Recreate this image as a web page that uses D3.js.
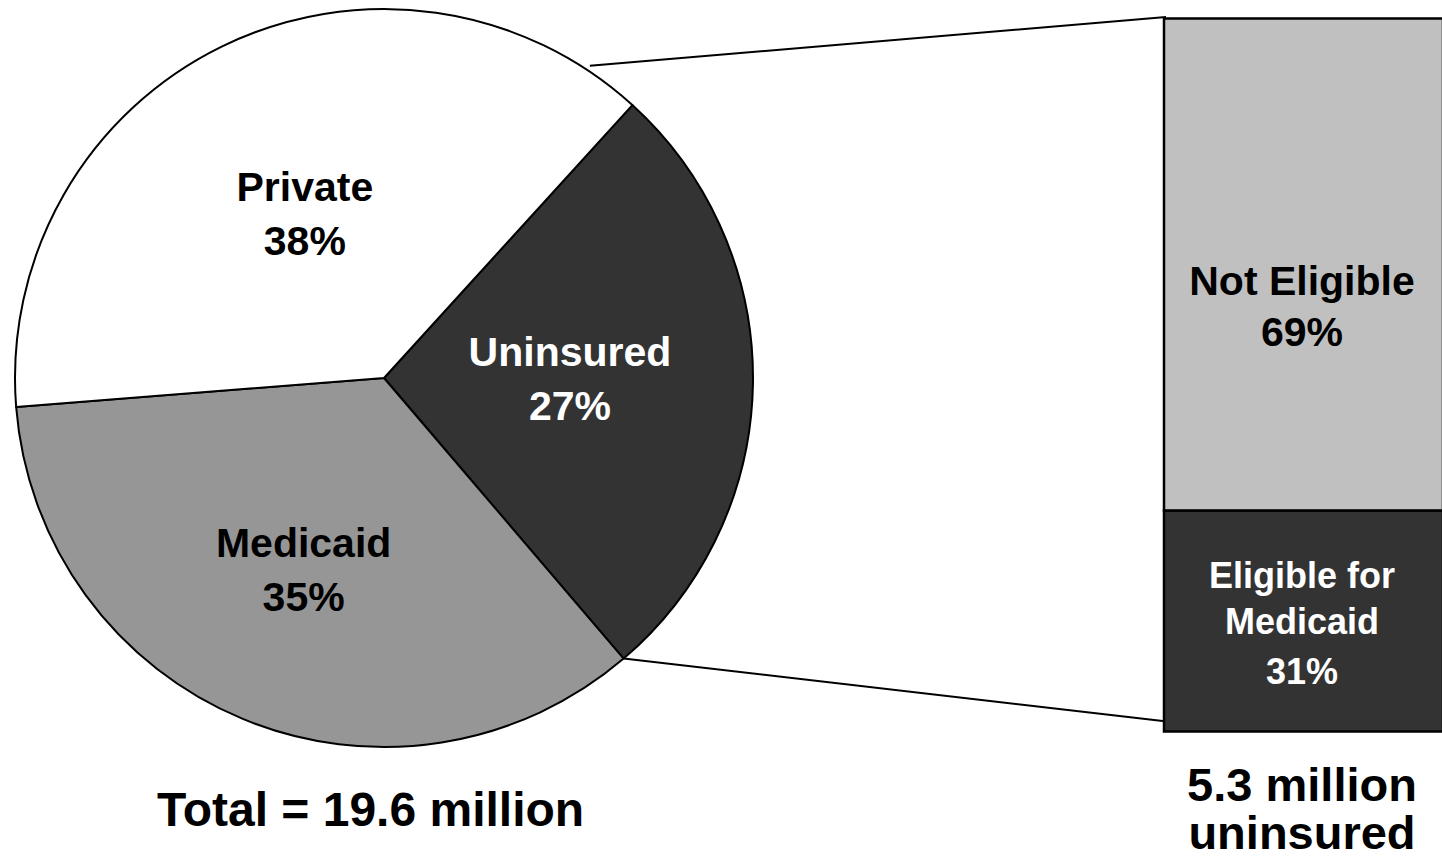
<!DOCTYPE html>
<html>
<head>
<meta charset="utf-8">
<script src="https://cdn.jsdelivr.net/npm/d3@7/dist/d3.min.js"></script>
<style>
  html, body { margin: 0; padding: 0; background: #fff; }
  svg { display: block; }
  text { font-family: "Liberation Sans", Arial, Helvetica, sans-serif; font-weight: bold; }
</style>
</head>
<body>
<svg id="chart" width="1442" height="862"></svg>
<script>
// Coverage of all children (pie) and breakdown of the uninsured (stacked bar)
const coverageNames  = ["Uninsured", "Medicaid", "Private"];
const coverageShares = [27, 35, 38];
const coverageColors = ["#333333", "#969696", "#ffffff"];
const coverageLabelColors = ["#ffffff", "#000000", "#000000"];

const uninsuredNames  = [["Eligible for", "Medicaid"], ["Not Eligible"]];
const uninsuredShares = [31, 69];
const uninsuredColors = ["#333333", "#c0c0c0"];
const uninsuredLabelColors = ["#ffffff", "#000000"];

const pieCaption = "Total = 19.6 million";
const barCaption = ["5.3 million", "uninsured"];

const svg = d3.select("#chart");
const cx = 384, cy = 378, R = 369;
const deg = Math.PI / 180;

// ---- pie ----
const pie = d3.pie().sort(null).value(d => d.v)
  .startAngle(42.3 * deg).endAngle(42.3 * deg + 2 * Math.PI);
const pieData = pie(coverageNames.map((n, i) => ({ n, v: coverageShares[i], i })));
const arc = d3.arc().innerRadius(0).outerRadius(R);

const gPie = svg.append("g").attr("transform", `translate(${cx},${cy})`);
gPie.selectAll("path").data(pieData).join("path")
  .attr("d", arc)
  .attr("fill", d => coverageColors[d.data.i])
  .attr("stroke", "#000").attr("stroke-width", 2).attr("stroke-linejoin", "round");

// label placement along each slice's bisector
const labelRadius = { Uninsured: 186, Medicaid: 210, Private: 180 };
pieData.forEach(d => {
  const a = (d.startAngle + d.endAngle) / 2;
  const r = labelRadius[d.data.n];
  const x = r * Math.sin(a), y = -r * Math.cos(a);
  const t = gPie.append("text").attr("text-anchor", "middle")
    .attr("fill", coverageLabelColors[d.data.i]).style("font-size", "41px");
  t.append("tspan").attr("x", x).attr("y", y - 15).text(d.data.n);
  t.append("tspan").attr("x", x).attr("y", y + 39).text(d.data.v + "%");
});

// ---- stacked bar for the uninsured ----
const barX = 1164, barW = 279;
const y = d3.scaleLinear().domain([0, 100]).range([731.5, 18.5]);
const stacked = [];
let acc = 0;
uninsuredShares.forEach((v, i) => { stacked.push({ i, v, y0: acc, y1: acc + v }); acc += v; });

// connectors from the uninsured slice to the bar
const uSlice = pieData[0];
const lowerStart = [cx + R * Math.sin(uSlice.endAngle), cy - R * Math.cos(uSlice.endAngle)];
const upperAngle = uSlice.startAngle - 8.9 * deg;
const upperStart = [cx + (R + 5) * Math.sin(upperAngle), cy - (R + 5) * Math.cos(upperAngle)];
svg.append("line").attr("x1", upperStart[0]).attr("y1", upperStart[1])
  .attr("x2", barX + 2).attr("y2", y(100) - 1.5).attr("stroke", "#000").attr("stroke-width", 2);
svg.append("line").attr("x1", lowerStart[0]).attr("y1", lowerStart[1])
  .attr("x2", barX + 3).attr("y2", y(0) - 10).attr("stroke", "#000").attr("stroke-width", 2);

svg.selectAll("rect.seg").data(stacked).join("rect").attr("class", "seg")
  .attr("x", barX).attr("width", barW)
  .attr("y", d => y(d.y1)).attr("height", d => y(d.y0) - y(d.y1))
  .attr("fill", d => uninsuredColors[d.i])
  .attr("stroke", "#000").attr("stroke-width", 2.5);

const barMid = barX + 138;
// Eligible for Medicaid
{
  const d = stacked[0];
  const t = svg.append("text").attr("text-anchor", "middle")
    .attr("fill", uninsuredLabelColors[0]).style("font-size", "36px");
  const mid = (y(d.y0) + y(d.y1)) / 2;
  uninsuredNames[0].forEach((s, k) => t.append("tspan").attr("x", barMid).attr("y", mid - 33 + k * 46).text(s));
  t.append("tspan").attr("x", barMid).attr("y", mid - 33 + 2 * 48).text(d.v + "%");
}
// Not Eligible
{
  const d = stacked[1];
  const t = svg.append("text").attr("text-anchor", "middle")
    .attr("fill", uninsuredLabelColors[1]).style("font-size", "41px");
  const mid = (y(d.y0) + y(d.y1)) / 2;
  t.append("tspan").attr("x", barMid).attr("y", mid + 31).text(uninsuredNames[1][0]);
  t.append("tspan").attr("x", barMid).attr("y", mid + 82).text(d.v + "%");
}

// ---- captions ----
svg.append("text").attr("x", 370.5).attr("y", 826).attr("text-anchor", "middle")
  .style("font-size", "48px").attr("fill", "#000").text(pieCaption);
const cap = svg.append("text").attr("text-anchor", "middle").style("font-size", "47px").attr("fill", "#000");
barCaption.forEach((s, k) => cap.append("tspan").attr("x", 1302).attr("y", 801 + k * 48).text(s));
</script>
</body>
</html>
